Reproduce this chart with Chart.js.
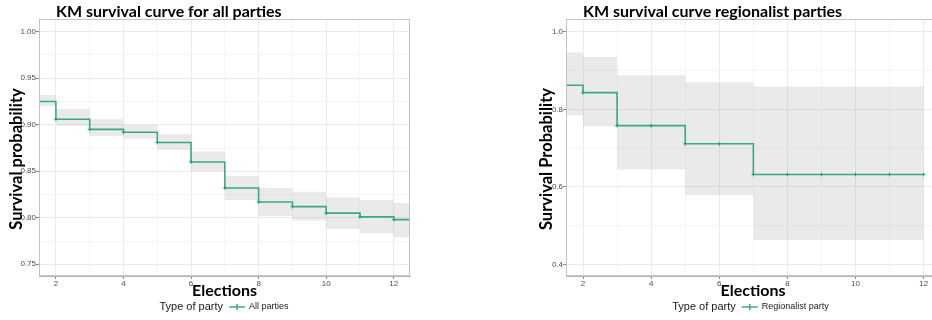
<!DOCTYPE html>
<html>
<head>
<meta charset="utf-8">
<script src="https://cdn.jsdelivr.net/npm/chart.js@4.4.0/dist/chart.umd.min.js"></script>
<style>
  html, body { margin: 0; padding: 0; background: #fff; overflow: hidden; }
  body { width: 932px; height: 320px; position: relative; }
  .panel { position: absolute; top: 0; width: 470px; height: 320px; }
  #leftPanel { left: 0; }
  #rightPanel { left: 480px; }
</style>
</head>
<body>
<div class="panel" id="leftPanel"><canvas id="allParties" width="470" height="320"></canvas></div>
<div class="panel" id="rightPanel"><canvas id="regionalist" width="470" height="320"></canvas></div>
<script>
// KM estimates, all parties
const allElections = [1, 2, 3, 4, 5, 6, 7, 8, 9, 10, 11, 12, 13];
const allSurvival = [0.925, 0.906, 0.895, 0.892, 0.881, 0.860, 0.832, 0.817, 0.812, 0.805, 0.801, 0.798, 0.798];
const allUpper = [0.932, 0.917, 0.906, 0.900, 0.890, 0.871, 0.845, 0.832, 0.828, 0.822, 0.819, 0.816, 0.816];
const allLower = [0.920, 0.899, 0.888, 0.885, 0.873, 0.850, 0.819, 0.802, 0.797, 0.788, 0.783, 0.779, 0.779];

// KM estimates, regionalist parties
const regElections = [1, 2, 3, 4, 5, 6, 7, 8, 9, 10, 11, 12];
const regSurvival = [0.862, 0.843, 0.758, 0.758, 0.711, 0.711, 0.632, 0.632, 0.632, 0.632, 0.632, 0.632];
const regUpper = [0.947, 0.935, 0.888, 0.888, 0.870, 0.870, 0.859, 0.859, 0.859, 0.859, 0.859, 0.859];
const regLower = [0.785, 0.756, 0.645, 0.645, 0.579, 0.579, 0.463, 0.463, 0.463, 0.463, 0.463, 0.463];

const GREEN = 'rgba(27,158,119,0.85)';
const BAND = 'rgba(160,160,160,0.22)';
const TICK_FONT = { family: 'Liberation Sans', size: 8 };

const pts = (xs, ys) => xs.map((x, i) => ({ x: x, y: ys[i] }));

// frame, titles and the inline legend (ggplot style)
const panelDecor = {
  id: 'panelDecor',
  afterDraw(chart, args, o) {
    const { ctx, chartArea: a } = chart;
    ctx.save();
    ctx.strokeStyle = '#c4c4c4';
    ctx.lineWidth = 1;
    ctx.strokeRect(a.left + 0.5, a.top + 0.5, a.right - a.left - 1, a.bottom - a.top - 1);

    ctx.fillStyle = '#000';
    ctx.font = 'bold 16px Lato';
    ctx.textAlign = 'left';
    ctx.textBaseline = 'alphabetic';
    ctx.fillText(o.title, a.left + 17, 17);

    ctx.save();
    ctx.translate(o.yTitleX, 159);
    ctx.rotate(-Math.PI / 2);
    ctx.textAlign = 'center';
    ctx.textBaseline = 'middle';
    ctx.font = 'bold 16.5px Lato';
    ctx.fillText(o.yTitle, 0, 0);
    ctx.restore();

    // legend
    const head = 'Type of party';
    ctx.font = '11px "Liberation Sans"';
    const wHead = ctx.measureText(head).width;
    ctx.font = '9px "Liberation Sans"';
    const wLab = ctx.measureText(o.legend).width;
    const total = wHead + 6 + 16 + 4 + wLab;
    let x = o.legendCenter - total / 2;
    const y = 307;
    ctx.textBaseline = 'middle';
    ctx.fillStyle = '#1a1a1a';
    ctx.font = '11px "Liberation Sans"';
    ctx.fillText(head, x, y);
    x += wHead + 6;
    ctx.strokeStyle = GREEN;
    ctx.lineWidth = 1.6;
    ctx.beginPath();
    ctx.moveTo(x, y); ctx.lineTo(x + 16, y);
    ctx.moveTo(x + 8, y - 3); ctx.lineTo(x + 8, y + 3);
    ctx.stroke();
    x += 20;
    ctx.font = '9px "Liberation Sans"';
    ctx.fillText(o.legend, x, y);
    ctx.restore();
  }
};

function makePanel(id, cfg) {
  return new Chart(document.getElementById(id), {
    type: 'line',
    data: {
      datasets: [
        {
          label: cfg.legend,
          data: pts(cfg.x, cfg.surv),
          stepped: true,
          borderColor: GREEN,
          borderWidth: 1.6,
          pointStyle: 'cross',
          pointRadius: 2,
          pointBorderWidth: 1,
          pointBorderColor: GREEN,
          fill: false,
          order: 0
        },
        {
          label: 'upper',
          data: pts(cfg.x, cfg.upper),
          stepped: true,
          borderWidth: 0,
          pointRadius: 0,
          backgroundColor: BAND,
          fill: '+1',
          order: 1
        },
        {
          label: 'lower',
          data: pts(cfg.x, cfg.lower),
          stepped: true,
          borderWidth: 0,
          pointRadius: 0,
          fill: false,
          order: 2
        }
      ]
    },
    options: {
      responsive: false,
      animation: false,
      layout: { padding: { top: 19, left: 0, right: cfg.padRight, bottom: 0 } },
      plugins: {
        legend: { display: false },
        tooltip: { enabled: false },
        panelDecor: cfg.decor
      },
      scales: {
        x: {
          type: 'linear',
          min: 1.5,
          max: 12.48,
          afterFit: s => { s.height = 44; },
          border: { color: '#b5b5b5', width: 1 },
          grid: {
            color: c => (c.tick && c.tick.value % 2 === 0) ? '#ebebeb' : '#f5f5f5',
            tickColor: c => (c.tick && c.tick.value % 2 === 0) ? '#888' : 'transparent',
            tickLength: 3
          },
          ticks: {
            stepSize: 1,
            includeBounds: false,
            maxRotation: 0,
            autoSkip: false,
            padding: 0,
            color: '#4d4d4d',
            font: TICK_FONT,
            callback: v => v % 2 === 0 ? String(v) : ''
          },
          title: {
            display: true,
            text: 'Elections',
            color: '#000',
            font: { family: 'Lato', size: 16, weight: 'bold' },
            padding: { top: 0, bottom: 20 }
          }
        },
        y: {
          type: 'linear',
          min: cfg.yMin,
          max: cfg.yMax,
          afterFit: s => { s.width = cfg.yWidth; },
          border: { color: '#b5b5b5', width: 1 },
          grid: {
            color: c => (c.tick && cfg.isMajor(c.tick.value)) ? '#ebebeb' : '#f5f5f5',
            tickColor: c => (c.tick && cfg.isMajor(c.tick.value)) ? '#888' : 'transparent',
            tickLength: 3
          },
          ticks: {
            stepSize: cfg.yStep,
            includeBounds: false,
            autoSkip: false,
            padding: 0,
            color: '#4d4d4d',
            font: TICK_FONT,
            callback: v => cfg.isMajor(v) ? v.toFixed(cfg.digits) : ''
          }
        }
      }
    },
    plugins: [panelDecor]
  });
}

makePanel('allParties', {
  x: allElections, surv: allSurvival, upper: allUpper, lower: allLower,
  legend: 'All parties',
  padRight: 60, yWidth: 39,
  yMin: 0.7374, yMax: 1.0137, yStep: 0.025, digits: 2,
  isMajor: v => Math.round(v * 1000) % 50 === 0,
  decor: { title: 'KM survival curve for all parties', yTitle: 'Survival probability', yTitleX: 17, legend: 'All parties', legendCenter: 224 }
});

makePanel('regionalist', {
  x: regElections, surv: regSurvival, upper: regUpper, lower: regLower,
  legend: 'Regionalist party',
  padRight: 10, yWidth: 86,
  yMin: 0.37, yMax: 1.033, yStep: 0.1, digits: 1,
  isMajor: v => Math.round(v * 10) % 2 === 0,
  decor: { title: 'KM survival curve regionalist parties', yTitle: 'Survival Probability', yTitleX: 66.5, legend: 'Regionalist party', legendCenter: 270.5 }
});
</script>
</body>
</html>
